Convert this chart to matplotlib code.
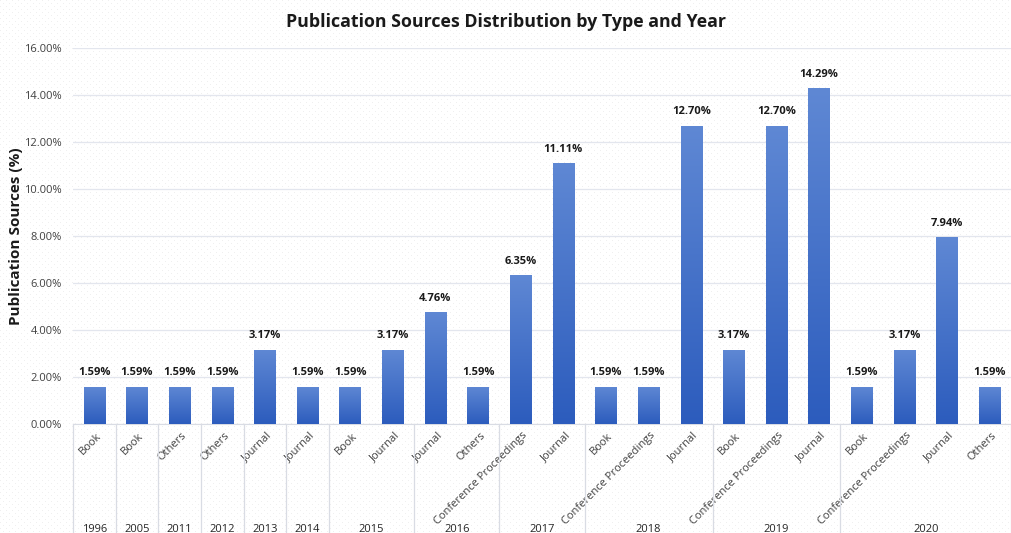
import numpy as np
import matplotlib
matplotlib.use("Agg")
import matplotlib.pyplot as plt
from matplotlib.colors import LinearSegmentedColormap
import matplotlib.transforms as mtransforms

years = ["1996", "2005", "2011", "2012", "2013", "2014", "2015", "2016",
         "2017", "2018", "2019", "2020"]
types_by_year = [
    ["Book"],
    ["Book"],
    ["Others"],
    ["Others"],
    ["Journal"],
    ["Journal"],
    ["Book", "Journal"],
    ["Journal", "Others"],
    ["Conference Proceedings", "Journal"],
    ["Book", "Conference Proceedings", "Journal"],
    ["Book", "Conference Proceedings", "Journal"],
    ["Book", "Conference Proceedings", "Journal", "Others"],
]
shares = [1.59, 1.59, 1.59, 1.59, 3.17, 1.59, 1.59, 3.17, 4.76, 1.59,
          6.35, 11.11, 1.59, 1.59, 12.70, 3.17, 12.70, 14.29,
          1.59, 3.17, 7.94, 1.59]

plt.rcParams["font.family"] = ["Open Sans", "DejaVu Sans"]

fig = plt.figure(figsize=(10.11, 5.33), dpi=100)

# faint dotted chart-area fill, kept underneath the axes
W, H = 1011, 533
bg = np.ones((H, W, 4))
bg[..., 3] = 0
yy, xx = np.mgrid[0:H, 0:W]
dots = ((yy % 6 == 0) & (xx % 6 == 0)) | ((yy % 6 == 3) & (xx % 6 == 3))
bg[dots] = [0.94, 0.94, 0.94, 1.0]
fig.figimage(bg, xo=0, yo=0, zorder=-1)

ax = fig.add_axes([0.0722, 0.2045, 0.9278, 0.7055])
ax.set_zorder(2)
ax.patch.set_alpha(0)

labels = [t for grp in types_by_year for t in grp]
x = np.arange(len(shares))
bar_w = 0.5

grad = LinearSegmentedColormap.from_list("bluegrad", ["#2c5cbd", "#5f88d4"])
bars = ax.bar(x, shares, width=bar_w, color="none", zorder=3)
gimg = np.linspace(0, 1, 256).reshape(-1, 1)
for b in bars:
    x0, y0 = b.get_x(), b.get_y()
    w, h = b.get_width(), b.get_height()
    im = ax.imshow(gimg, cmap=grad, origin="lower", aspect="auto",
                   extent=[x0, x0 + w, y0, y0 + h], zorder=3)
    im.set_clip_path(b)
    ax.text(x0 + w / 2, h + 0.35, f"{h:.2f}%", ha="center", va="bottom",
            fontsize=8, fontweight="bold", color="#1a1a1a", zorder=4)

ax.set_xlim(-0.5, len(shares) - 0.5)
ax.set_ylim(0, 16)
ax.set_yticks(np.arange(0, 17, 2))
ax.set_yticklabels([f"{v:.2f}%" for v in np.arange(0, 17, 2)],
                   fontsize=8, color="#404040")
ax.yaxis.grid(True, color="#e3e6ee", linewidth=0.9, zorder=0)
ax.set_axisbelow(True)
ax.tick_params(axis="y", length=0, pad=8)
ax.tick_params(axis="x", length=0)
for s in ["top", "right", "left"]:
    ax.spines[s].set_visible(False)
ax.spines["bottom"].set_color("#d9dce4")

ax.set_xticks(x)
ax.set_xticklabels(labels, rotation=45, ha="right", va="top",
                   rotation_mode="anchor", fontsize=8, color="#404040")
for lbl in ax.get_xticklabels():
    lbl.set_transform(lbl.get_transform() +
                      mtransforms.ScaledTranslation(1 / 72, -1 / 72, fig.dpi_scale_trans))

# year group separators and labels under the category labels
trans = mtransforms.blended_transform_factory(ax.transData, ax.transAxes)
edge = -0.5
ax.plot([edge, edge], [0, -0.30], transform=trans, color="#d9dce4",
        linewidth=0.9, clip_on=False)
for yr, grp in zip(years, types_by_year):
    mid = edge + len(grp) / 2
    ax.text(mid, -0.28, yr, transform=trans, ha="center", va="center",
            fontsize=8, color="#262626")
    edge += len(grp)
    ax.plot([edge, edge], [0, -0.30], transform=trans, color="#d9dce4",
            linewidth=0.9, clip_on=False)

ax.set_ylabel("Publication Sources (%)", fontsize=11, fontweight="bold",
              color="#1a1a1a")
ax.yaxis.set_label_coords(-0.053, 0.5)
fig.suptitle("Publication Sources Distribution by Type and Year",
             fontsize=12.8, fontweight="bold", color="#1a1a1a", y=0.975)

fig.savefig("out.png", dpi=100)
